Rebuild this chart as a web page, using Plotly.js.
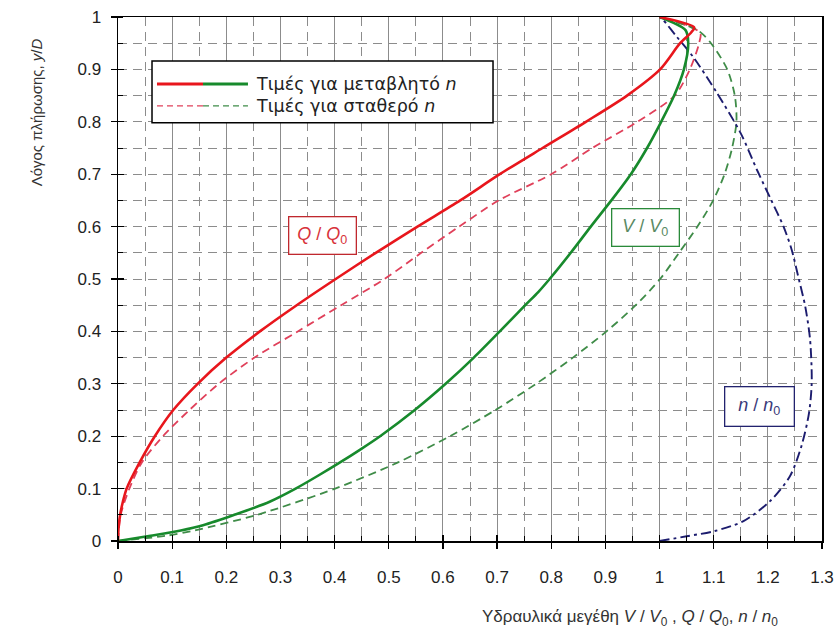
<!DOCTYPE html>
<html>
<head>
<meta charset="utf-8">
<script src="https://cdn.plot.ly/plotly-3.0.1.min.js"></script>
<style>html,body{margin:0;padding:0;background:#fff;}#chart{width:838px;height:635px;}</style>
</head>
<body>
<div id="chart"></div>
<script>
// Q/Q0 with variable n (solid red)
const qVarX = [0, 0.001, 0.004, 0.009, 0.016, 0.040, 0.068, 0.102, 0.147, 0.200, 0.262, 0.330, 0.402, 0.476, 0.553, 0.632, 0.705, 0.784, 0.864, 0.940, 1.001, 1.038, 1.058, 1.064, 1.0];
const qVarY = [0, 0.025, 0.05, 0.075, 0.10, 0.15, 0.20, 0.25, 0.30, 0.35, 0.40, 0.45, 0.50, 0.55, 0.60, 0.65, 0.70, 0.75, 0.80, 0.85, 0.90, 0.95, 0.97, 0.98, 1.0];
// Q/Q0 with constant n (dashed red)
const qConX = [0, 0.005, 0.021, 0.044, 0.083, 0.132, 0.186, 0.252, 0.332, 0.412, 0.492, 0.560, 0.630, 0.703, 0.800, 0.876, 0.959, 1.028, 1.056, 1.073, 1.075, 1.0];
const qConY = [0, 0.05, 0.10, 0.15, 0.20, 0.25, 0.30, 0.35, 0.40, 0.45, 0.50, 0.55, 0.60, 0.65, 0.70, 0.75, 0.80, 0.85, 0.90, 0.95, 0.97, 1.0];
// V/V0 with variable n (solid green)
const vVarX = [0, 0.060, 0.116, 0.157, 0.215, 0.280, 0.328, 0.370, 0.410, 0.448, 0.484, 0.548, 0.605, 0.657, 0.705, 0.752, 0.776, 0.797, 0.836, 0.873, 0.911, 0.947, 0.977, 1.003, 1.027, 1.045, 1.053, 1.048, 1.0];
const vVarY = [0, 0.01, 0.02, 0.03, 0.05, 0.075, 0.10, 0.125, 0.15, 0.175, 0.20, 0.25, 0.30, 0.35, 0.40, 0.45, 0.475, 0.50, 0.55, 0.60, 0.65, 0.70, 0.75, 0.80, 0.85, 0.90, 0.95, 0.975, 1.0];
// V/V0 with constant n (dashed green)
const vConX = [0, 0.089, 0.141, 0.257, 0.401, 0.517, 0.613, 0.697, 0.772, 0.840, 0.902, 0.956, 1.001, 1.036, 1.070, 1.099, 1.120, 1.134, 1.142, 1.139, 1.125, 1.095, 1.070, 1.0];
const vConY = [0, 0.01, 0.02, 0.05, 0.10, 0.15, 0.20, 0.25, 0.30, 0.35, 0.40, 0.45, 0.50, 0.55, 0.60, 0.65, 0.70, 0.75, 0.80, 0.85, 0.90, 0.95, 0.975, 1.0];
// n/n0 (dash-dot navy)
const nX = [1.0, 1.050, 1.102, 1.155, 1.204, 1.241, 1.262, 1.276, 1.281, 1.278, 1.269, 1.256, 1.244, 1.229, 1.206, 1.180, 1.150, 1.106, 1.062, 1.032, 1.007, 1.0];
const nY = [0, 0.009, 0.019, 0.038, 0.076, 0.124, 0.181, 0.244, 0.302, 0.384, 0.448, 0.505, 0.556, 0.600, 0.651, 0.708, 0.778, 0.855, 0.924, 0.962, 0.994, 1.0];

const xTicks = [0, 0.1, 0.2, 0.3, 0.4, 0.5, 0.6, 0.7, 0.8, 0.9, 1, 1.1, 1.2, 1.3];
const xTickText = ['0', '0.1', '0.2', '0.3', '0.4', '0.5', '0.6', '0.7', '0.8', '0.9', '1', '1.1', '1.2', '1.3'];
const yTicks = [0, 0.1, 0.2, 0.3, 0.4, 0.5, 0.6, 0.7, 0.8, 0.9, 1];
const yTickText = ['0', '0.1', '0.2', '0.3', '0.4', '0.5', '0.6', '0.7', '0.8', '0.9', '1'];

const RED = '#e8161c', GREEN = '#178a2c', RED_D = '#e0405a', GREEN_D = '#3f8c48', NAVY = '#1c1c6e';
const FONT = 'Liberation Sans, Arial, sans-serif';
const LFONT = 'DejaVu Sans, Verdana, sans-serif';

const traces = [
  {x: qConX, y: qConY, mode: 'lines', line: {color: RED_D, width: 1.8, dash: '8px,5px', shape: 'spline', smoothing: 0.8}, showlegend: false, hoverinfo: 'skip'},
  {x: vConX, y: vConY, mode: 'lines', line: {color: GREEN_D, width: 1.8, dash: '8px,5px', shape: 'spline', smoothing: 0.8}, showlegend: false, hoverinfo: 'skip'},
  {x: nX, y: nY, mode: 'lines', line: {color: NAVY, width: 1.9, dash: '10px,4px,3px,4px', shape: 'spline', smoothing: 0.8}, showlegend: false, hoverinfo: 'skip'},
  {x: vVarX, y: vVarY, mode: 'lines', line: {color: GREEN, width: 2.6, shape: 'spline', smoothing: 0.8}, showlegend: false, hoverinfo: 'skip'},
  {x: qVarX, y: qVarY, mode: 'lines', line: {color: RED, width: 2.6, shape: 'spline', smoothing: 0.8}, showlegend: false, hoverinfo: 'skip'},
  {x: [null], y: [null], xaxis: 'x2', yaxis: 'y2', mode: 'lines', showlegend: false, hoverinfo: 'skip'}
];

const gridCol = '#8c8c8c';
const layout = {
  width: 838, height: 635,
  margin: {l: 118, r: 16, t: 17, b: 94},
  paper_bgcolor: '#fff', plot_bgcolor: '#fff',
  font: {family: FONT, color: '#222'},
  showlegend: false,
  xaxis: {
    range: [0, 1.3], tickmode: 'array', tickvals: xTicks, ticktext: xTickText,
    showgrid: true, gridcolor: gridCol, gridwidth: 1,
    ticks: 'outside', ticklen: 6, tickwidth: 1.3, tickcolor: '#000',
    showline: true, linecolor: '#000', linewidth: 1.5, mirror: true,
    zeroline: false, tickfont: {size: 17, color: '#222', family: FONT}, ticklabelstandoff: 14,
    minor: {dtick: 0.05, tick0: 0, showgrid: true, gridcolor: gridCol, gridwidth: 1, griddash: '9px,6px', ticks: 'inside', ticklen: 5, tickcolor: '#000', tickwidth: 1}
  },
  yaxis: {
    range: [0, 1], tickmode: 'array', tickvals: yTicks, ticktext: yTickText,
    showgrid: true, gridcolor: gridCol, gridwidth: 1, griddash: '9px,6px',
    ticks: 'outside', ticklen: 6, tickwidth: 1.3, tickcolor: '#000',
    showline: true, linecolor: '#000', linewidth: 1.5, mirror: true,
    zeroline: false, tickfont: {size: 17, color: '#222', family: FONT}, ticklabelstandoff: 6,
    minor: {dtick: 0.05, tick0: 0, showgrid: true, gridcolor: gridCol, gridwidth: 1, griddash: '9px,6px', ticks: 'inside', ticklen: 5, tickcolor: '#000', tickwidth: 1}
  },
  xaxis2: {overlaying: 'x', anchor: 'y', range: [0, 1.3], tickmode: 'array', tickvals: xTicks, ticks: 'inside', ticklen: 6, tickwidth: 1.3, tickcolor: '#000', showticklabels: false, showgrid: false, zeroline: false, showline: false},
  yaxis2: {overlaying: 'y', anchor: 'x', side: 'left', range: [0, 1], tickmode: 'array', tickvals: yTicks, ticks: 'inside', ticklen: 6, tickwidth: 1.3, tickcolor: '#000', showticklabels: false, showgrid: false, zeroline: false, showline: false},
  shapes: [
    {type: 'rect', xref: 'x', yref: 'y', x0: 0.0628, x1: 0.6925, y0: 0.798, y1: 0.916, line: {color: '#000', width: 1.5}, fillcolor: '#fff', layer: 'above'},
    {type: 'line', xref: 'x', yref: 'y', x0: 0.072, x1: 0.157, y0: 0.8723, y1: 0.8723, line: {color: RED, width: 3}, layer: 'above'},
    {type: 'line', xref: 'x', yref: 'y', x0: 0.157, x1: 0.240, y0: 0.8723, y1: 0.8723, line: {color: GREEN, width: 3}, layer: 'above'},
    {type: 'line', xref: 'x', yref: 'y', x0: 0.072, x1: 0.157, y0: 0.8303, y1: 0.8303, line: {color: RED_D, width: 1.3, dash: '6px,4px'}, layer: 'above'},
    {type: 'line', xref: 'x', yref: 'y', x0: 0.157, x1: 0.240, y0: 0.8303, y1: 0.8303, line: {color: GREEN_D, width: 1.3, dash: '6px,4px'}, layer: 'above'}
  ],
  annotations: [
    {xref: 'x', yref: 'y', x: 0.2512, y: 0.8723, xanchor: 'left', yanchor: 'middle', showarrow: false, text: 'Τιμές για μεταβλητό <i>n</i>', font: {size: 17.5, color: '#222', family: LFONT}},
    {xref: 'x', yref: 'y', x: 0.2512, y: 0.8303, xanchor: 'left', yanchor: 'middle', showarrow: false, text: 'Τιμές για σταθερό <i>n</i>', font: {size: 17.5, color: '#222', family: LFONT}},
    {xref: 'x', yref: 'y', x: 0.3777, y: 0.5825, showarrow: false, text: '<i>Q</i> / <i>Q</i><sub>0</sub>', font: {size: 18, color: '#d8323a', family: FONT}, bordercolor: '#c0282e', borderwidth: 1.3, borderpad: 6, bgcolor: '#fff', width: 54, height: 24},
    {xref: 'x', yref: 'y', x: 0.974, y: 0.599, showarrow: false, text: '<i>V</i> / <i>V</i><sub>0</sub>', font: {size: 18, color: '#5a8a64', family: FONT}, bordercolor: '#2a8a3a', borderwidth: 1.3, borderpad: 6, bgcolor: '#fff', width: 54, height: 24},
    {xref: 'x', yref: 'y', x: 1.184, y: 0.256, showarrow: false, text: '<i>n</i> / <i>n</i><sub>0</sub>', font: {size: 18, color: '#3a3a7a', family: FONT}, bordercolor: '#22226e', borderwidth: 1.3, borderpad: 7, bgcolor: '#fff', width: 54, height: 24},
    {xref: 'paper', yref: 'paper', x: 0.727, y: -0.146, xanchor: 'center', yanchor: 'middle', showarrow: false, text: 'Υδραυλικά μεγέθη <i>V</i> / <i>V</i><sub>0</sub> , <i>Q</i> / <i>Q</i><sub>0</sub>, <i>n</i> / <i>n</i><sub>0</sub>', font: {size: 17, color: '#333', family: FONT}},
    {xref: 'paper', yref: 'paper', x: -0.1165, y: 0.818, xanchor: 'center', yanchor: 'middle', showarrow: false, textangle: -90, text: 'Λόγος πλήρωσης, <i>y</i>/<i>D</i>', font: {size: 15, color: '#333', family: FONT}}
  ]
};

Plotly.newPlot('chart', traces, layout, {displayModeBar: false, staticPlot: true});
</script>
</body>
</html>
